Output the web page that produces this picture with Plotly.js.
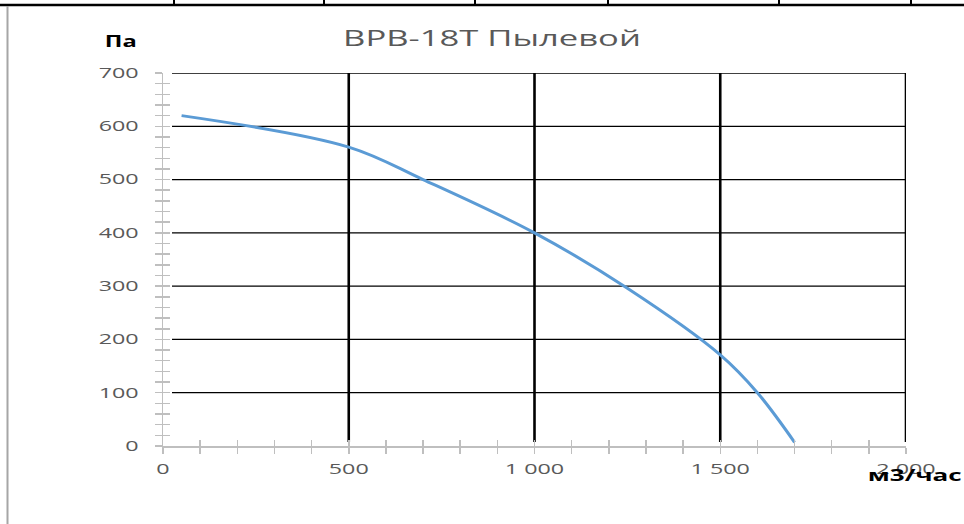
<!DOCTYPE html>
<html>
<head>
<meta charset="utf-8">
<script src="https://cdn.plot.ly/plotly-3.0.1.min.js"></script>
<style>
  html, body { margin: 0; padding: 0; background: #ffffff; }
  #chart { width: 964px; height: 524px; }
</style>
</head>
<body>
<div id="chart"></div>
<script>
// ---- data ----
const flowValues = [50, 500, 700, 1000, 1250, 1500, 1600, 1700];      // м3/час
const pressureValues = [620, 561, 500, 400, 296, 171, 100, 7];        // Па
const xTickVals = [0, 500, 1000, 1500, 2000];
const xTickText = ['0', '500', '1 000', '1 500', '2 000'];
const yTickVals = [0, 100, 200, 300, 400, 500, 600, 700];
const yTickText = ['0', '100', '200', '300', '400', '500', '600', '700'];
const chartTitle = 'ВРВ-18Т Пылевой';
const yUnit = 'Па';
const xUnit = 'м3/час';

// ---- layout geometry (pixels) ----
const W = 964, H = 524;
const M = { l: 163, r: 58, t: 73, b: 78 };
const PW = W - M.l - M.r, PH = H - M.t - M.b;
const px = x => (x - M.l) / PW;          // pixel -> paper x
const py = y => 1 - (y - M.t) / PH;      // pixel -> paper y

const axisGray = '#BFBFBF';
const labelFont = { family: 'Open Sans, sans-serif', size: 14, color: '#595959' };

const shapes = [];
// horizontal grid lines (black, thin), starting a little right of the axis
yTickVals.filter(v => v > 0).forEach(v => {
  shapes.push({ type: 'line', xref: 'paper', yref: 'y', x0: px(172), x1: 1, y0: v, y1: v,
    line: { color: '#000000', width: 1.3 }, layer: 'below' });
});
// vertical grid lines (black, thick)
xTickVals.filter(v => v > 0).forEach(v => {
  shapes.push({ type: 'line', xref: 'x', yref: 'paper', x0: v, x1: v, y0: py(442), y1: 1,
    line: { color: '#000000', width: 2.6 }, layer: 'below' });
});
// page decorations: top black rule with small ticks, left gray rule
shapes.push({ type: 'line', xref: 'paper', yref: 'paper', x0: px(0), x1: px(W), y0: py(5), y1: py(5),
  line: { color: '#000000', width: 2.5 } });
[174, 324, 475, 608, 779, 911].forEach(p => {
  shapes.push({ type: 'line', xref: 'paper', yref: 'paper', x0: px(p), x1: px(p), y0: py(0), y1: py(5),
    line: { color: '#000000', width: 2 } });
});
shapes.push({ type: 'line', xref: 'paper', yref: 'paper', x0: px(7.5), x1: px(7.5), y0: py(6), y1: py(H),
  line: { color: '#A6A6A6', width: 2 } });

const traces = [
  {
    x: flowValues, y: pressureValues, type: 'scatter', mode: 'lines',
    line: { color: '#5B9BD5', width: 3, shape: 'spline', smoothing: 1 },
    hoverinfo: 'x+y', showlegend: false
  },
  { x: [], y: [], xaxis: 'x2', yaxis: 'y2', type: 'scatter', mode: 'lines', showlegend: false, hoverinfo: 'skip' }
];

const layout = {
  width: W, height: H, autosize: false,
  margin: M,
  paper_bgcolor: '#ffffff', plot_bgcolor: '#ffffff',
  showlegend: false,
  title: {
    text: chartTitle, x: 492 / W, xanchor: 'center', y: 1 - 39 / H, yanchor: 'middle',
    font: { family: 'Open Sans, sans-serif', size: 21, color: '#595959' }
  },
  xaxis: {
    range: [0, 2000], tickmode: 'array', tickvals: xTickVals, ticktext: xTickText,
    showgrid: false, zeroline: false, showline: true, linecolor: axisGray, linewidth: 1.5,
    ticks: 'outside', ticklen: 6, tickwidth: 1.5, tickcolor: axisGray,
    minor: { dtick: 100, tick0: 0, ticks: 'outside', ticklen: 6, tickwidth: 1.5, tickcolor: axisGray, showgrid: false },
    tickfont: labelFont, ticklabelstandoff: 4, fixedrange: true
  },
  yaxis: {
    range: [0, 700], tickmode: 'array', tickvals: yTickVals, ticktext: yTickText,
    showgrid: false, zeroline: false, showline: true, linecolor: axisGray, linewidth: 1.5,
    ticks: 'outside', ticklen: 7, tickwidth: 1.5, tickcolor: axisGray,
    minor: { dtick: 20, tick0: 0, ticks: 'outside', ticklen: 7, tickwidth: 1.5, tickcolor: axisGray, showgrid: false },
    tickfont: labelFont, ticklabelstandoff: 13, fixedrange: true
  },
  xaxis2: {
    overlaying: 'x', anchor: 'y2', range: [0, 2000], dtick: 100, tick0: 0,
    ticks: 'inside', ticklen: 6, tickwidth: 1.5, tickcolor: axisGray,
    showticklabels: false, showgrid: false, zeroline: false, showline: false, fixedrange: true
  },
  yaxis2: {
    overlaying: 'y', anchor: 'x2', range: [0, 700], dtick: 20, tick0: 0,
    ticks: 'inside', ticklen: 7, tickwidth: 1.5, tickcolor: axisGray,
    showticklabels: false, showgrid: false, zeroline: false, showline: false, fixedrange: true
  },
  shapes: shapes,
  annotations: [
    { text: '<b>' + yUnit + '</b>', xref: 'paper', yref: 'paper', x: px(121), y: py(41),
      xanchor: 'center', yanchor: 'middle', showarrow: false,
      font: { family: 'Open Sans, sans-serif', size: 16, color: '#000000' } },
    { text: '<b>' + xUnit + '</b>', xref: 'paper', yref: 'paper', x: px(915), y: py(475),
      xanchor: 'center', yanchor: 'middle', showarrow: false,
      font: { family: 'Open Sans, sans-serif', size: 16, color: '#000000' } }
  ]
};

// widen text horizontally about its anchor point (the reference text is stretched)
function stretchEl(el, s) {
  const X = parseFloat(el.getAttribute('x') || 0);
  const Y = parseFloat(el.getAttribute('y') || 0);
  const T = el.getAttribute('transform') || '';
  el.setAttribute('transform', T + ' translate(' + X + ',' + Y + ') scale(' + s + ',1) translate(' + (-X) + ',' + (-Y) + ')');
}

Plotly.newPlot('chart', traces, layout, { displayModeBar: false, staticPlot: true }).then(gd => {
  const ticks = Array.from(gd.querySelectorAll('g.xtick text, g.ytick text'));
  const ref = ticks.find(t => t.textContent === '500');
  const sTick = ref ? 40 / ref.getBBox().width : 1.4;
  ticks.forEach(t => stretchEl(t, sTick));
  const title = gd.querySelector('text.gtitle');
  if (title) stretchEl(title, 298 / title.getBBox().width);
  gd.querySelectorAll('text.annotation-text').forEach(t => {
    const w = t.getBBox().width;
    const target = t.textContent === yUnit ? 32 : 94;
    stretchEl(t, target / w);
  });
});
</script>
</body>
</html>
